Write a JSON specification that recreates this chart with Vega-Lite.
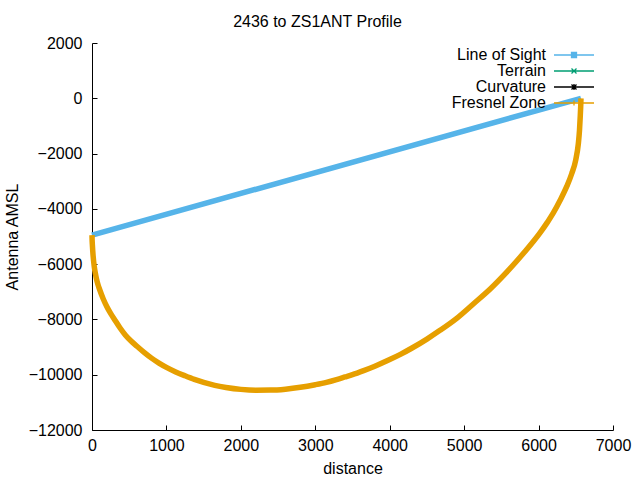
{
  "$schema": "https://vega.github.io/schema/vega-lite/v6.json",
  "width": 521,
  "height": 387,
  "autosize": {"type": "none"},
  "padding": {"left": 92, "top": 43, "right": 27, "bottom": 50},
  "background": "white",
  "title": {
    "text": "2436 to ZS1ANT Profile",
    "frame": "bounds",
    "anchor": "middle",
    "font": "Liberation Sans",
    "fontSize": 16,
    "fontWeight": "normal",
    "color": "black",
    "offset": 5
  },
  "data": {
    "values": [
      {"series": "Line of Sight", "distance": 0, "amsl": -4950},
      {"series": "Line of Sight", "distance": 6570, "amsl": 0},
      {"series": "Fresnel Zone", "distance": 0, "amsl": -4950},
      {"series": "Fresnel Zone", "distance": 2, "amsl": -5150},
      {"series": "Fresnel Zone", "distance": 5, "amsl": -5300},
      {"series": "Fresnel Zone", "distance": 10, "amsl": -5520},
      {"series": "Fresnel Zone", "distance": 15, "amsl": -5700},
      {"series": "Fresnel Zone", "distance": 30, "amsl": -6080},
      {"series": "Fresnel Zone", "distance": 45, "amsl": -6330},
      {"series": "Fresnel Zone", "distance": 60, "amsl": -6530},
      {"series": "Fresnel Zone", "distance": 80, "amsl": -6740},
      {"series": "Fresnel Zone", "distance": 100, "amsl": -6900},
      {"series": "Fresnel Zone", "distance": 150, "amsl": -7250},
      {"series": "Fresnel Zone", "distance": 200, "amsl": -7540},
      {"series": "Fresnel Zone", "distance": 250, "amsl": -7780},
      {"series": "Fresnel Zone", "distance": 300, "amsl": -7990},
      {"series": "Fresnel Zone", "distance": 375, "amsl": -8300},
      {"series": "Fresnel Zone", "distance": 450, "amsl": -8570},
      {"series": "Fresnel Zone", "distance": 525, "amsl": -8780},
      {"series": "Fresnel Zone", "distance": 600, "amsl": -8960},
      {"series": "Fresnel Zone", "distance": 700, "amsl": -9190},
      {"series": "Fresnel Zone", "distance": 800, "amsl": -9400},
      {"series": "Fresnel Zone", "distance": 900, "amsl": -9580},
      {"series": "Fresnel Zone", "distance": 1000, "amsl": -9735},
      {"series": "Fresnel Zone", "distance": 1125, "amsl": -9900},
      {"series": "Fresnel Zone", "distance": 1250, "amsl": -10040},
      {"series": "Fresnel Zone", "distance": 1375, "amsl": -10170},
      {"series": "Fresnel Zone", "distance": 1500, "amsl": -10280},
      {"series": "Fresnel Zone", "distance": 1650, "amsl": -10385},
      {"series": "Fresnel Zone", "distance": 1800, "amsl": -10460},
      {"series": "Fresnel Zone", "distance": 2000, "amsl": -10530},
      {"series": "Fresnel Zone", "distance": 2200, "amsl": -10560},
      {"series": "Fresnel Zone", "distance": 2400, "amsl": -10557},
      {"series": "Fresnel Zone", "distance": 2600, "amsl": -10522},
      {"series": "Fresnel Zone", "distance": 2800, "amsl": -10456},
      {"series": "Fresnel Zone", "distance": 3000, "amsl": -10361},
      {"series": "Fresnel Zone", "distance": 3150, "amsl": -10275},
      {"series": "Fresnel Zone", "distance": 3285, "amsl": -10175},
      {"series": "Fresnel Zone", "distance": 3400, "amsl": -10080},
      {"series": "Fresnel Zone", "distance": 3500, "amsl": -9996},
      {"series": "Fresnel Zone", "distance": 3650, "amsl": -9850},
      {"series": "Fresnel Zone", "distance": 3800, "amsl": -9692},
      {"series": "Fresnel Zone", "distance": 4000, "amsl": -9452},
      {"series": "Fresnel Zone", "distance": 4150, "amsl": -9255},
      {"series": "Fresnel Zone", "distance": 4300, "amsl": -9034},
      {"series": "Fresnel Zone", "distance": 4500, "amsl": -8710},
      {"series": "Fresnel Zone", "distance": 4676, "amsl": -8395},
      {"series": "Fresnel Zone", "distance": 4900, "amsl": -7960},
      {"series": "Fresnel Zone", "distance": 5123, "amsl": -7440},
      {"series": "Fresnel Zone", "distance": 5350, "amsl": -6900},
      {"series": "Fresnel Zone", "distance": 5572, "amsl": -6290},
      {"series": "Fresnel Zone", "distance": 5800, "amsl": -5600},
      {"series": "Fresnel Zone", "distance": 6019, "amsl": -4870},
      {"series": "Fresnel Zone", "distance": 6120, "amsl": -4480},
      {"series": "Fresnel Zone", "distance": 6200, "amsl": -4140},
      {"series": "Fresnel Zone", "distance": 6288, "amsl": -3700},
      {"series": "Fresnel Zone", "distance": 6380, "amsl": -3180},
      {"series": "Fresnel Zone", "distance": 6445, "amsl": -2730},
      {"series": "Fresnel Zone", "distance": 6500, "amsl": -2220},
      {"series": "Fresnel Zone", "distance": 6534, "amsl": -1650},
      {"series": "Fresnel Zone", "distance": 6550, "amsl": -1150},
      {"series": "Fresnel Zone", "distance": 6560, "amsl": -650},
      {"series": "Fresnel Zone", "distance": 6566, "amsl": -300},
      {"series": "Fresnel Zone", "distance": 6570, "amsl": 0}
    ]
  },
  "mark": {"type": "line", "strokeWidth": 5.5, "interpolate": "monotone"},
  "encoding": {
    "x": {
      "field": "distance",
      "type": "quantitative",
      "scale": {"domain": [0, 7000], "nice": false},
      "axis": {"title": "distance", "values": [0, 1000, 2000, 3000, 4000, 5000, 6000, 7000], "format": "d", "labelFlush": false, "labelPadding": 12, "titlePadding": 7}
    },
    "y": {
      "field": "amsl",
      "type": "quantitative",
      "scale": {"domain": [-12000, 2000], "nice": false, "zero": false},
      "axis": {"title": "Antenna AMSL", "values": [-12000, -10000, -8000, -6000, -4000, -2000, 0, 2000], "format": "d", "labelFlush": false, "labelPadding": 15, "titlePadding": 8}
    },
    "color": {
      "field": "series",
      "type": "nominal",
      "sort": null,
      "scale": {
        "domain": ["Line of Sight", "Terrain", "Curvature", "Fresnel Zone"],
        "range": ["#56b4e9", "#009e73", "#000000", "#e69f00"]
      },
      "legend": {
        "title": null,
        "orient": "none",
        "legendX": 474,
        "legendY": 4,
        "padding": 0,
        "symbolSize": 100,
        "symbolStrokeWidth": 1.3,
        "symbolOpacity": 1,
        "labelAlign": "right",
        "labelOffset": -36,
        "rowPadding": -1,
        "labelFont": "Liberation Sans",
        "labelFontSize": 16,
        "labelColor": "black",
        "encode": {
          "symbols": {
            "update": {
              "opacity": {"value": 1},
              "fill": {"scale": "color", "field": "value"},
              "shape": {"signal": "datum.value == 'Line of Sight' ? 'M-4,0H4M-0.5,-0.5H0.5V0.5H-0.5Z' : datum.value == 'Terrain' ? 'M-4,0H4M-0.5,-0.5L0.5,0.5M-0.5,0.5L0.5,-0.5' : datum.value == 'Curvature' ? 'M-4,0H4M-0.5,-0.5L0.5,0.5M-0.5,0.5L0.5,-0.5M0,-0.6V0.6' : 'M-4,0H4M0,-0.5V0.5'"}
            }
          }
        }
      }
    }
  },
  "config": {
    "view": {"stroke": null},
    "font": "Liberation Sans",
    "axis": {
      "grid": false,
      "domainColor": "black",
      "domainWidth": 1,
      "tickColor": "black",
      "tickWidth": 1,
      "tickSize": -5,
      "labelFont": "Liberation Sans",
      "labelFontSize": 16,
      "labelColor": "black",
      "titleFont": "Liberation Sans",
      "titleFontSize": 16,
      "titleFontWeight": "normal",
      "titleColor": "black"
    }
  }
}
